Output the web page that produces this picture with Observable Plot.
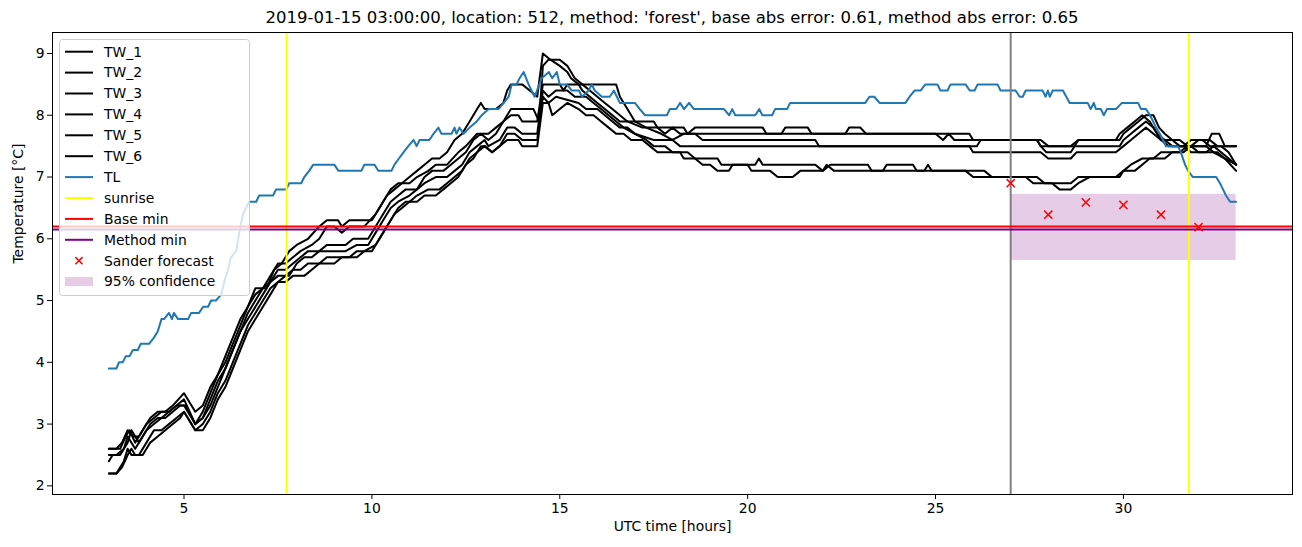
<!DOCTYPE html>
<html><head><meta charset="utf-8">
<script src="https://cdn.jsdelivr.net/npm/d3@7"></script>
<script src="https://cdn.jsdelivr.net/npm/@observablehq/plot@0.6"></script>
<style>
body{margin:0;background:#fff;font-family:"DejaVu Sans",sans-serif;}
#wrap{position:relative;width:1302px;height:547px;overflow:hidden;}
#title{position:absolute;left:52px;width:1240px;top:7px;line-height:22px;text-align:center;font-size:16.5px;color:#000;}
#chart{position:absolute;left:0;top:31px;}
#legend{position:absolute;left:59px;top:39px;}
</style></head><body>
<div id="wrap"><div id="title"></div><div id="chart"></div><svg id="legend" width="192" height="258"></svg></div>
<script>
const titleText = "2019-01-15 03:00:00, location: 512, method: 'forest', base abs error: 0.61, method abs error: 0.65";
const xLabel = "UTC time [hours]";
const yLabel = "Temperature [\u00B0C]";
const xTicks = [5, 10, 15, 20, 25, 30];
const yTicks = [2, 3, 4, 5, 6, 7, 8, 9];
const twNames = ["TW_1", "TW_2", "TW_3", "TW_4", "TW_5", "TW_6"];

const tw1 = [[3,2.6],[3.3,2.6],[3.45,2.8],[3.55,2.9],[3.7,2.7],[3.9,2.9],[4.1,3.1],[4.3,3.2],[4.5,3.2],[4.7,3.3],[4.85,3.4],[5.0,3.5],[5.3,3.2],[5.5,3.3],[5.7,3.6],[5.9,3.8],[6.1,4.1],[6.3,4.4],[6.5,4.7],[6.7,4.9],[6.9,5.2],[7.2,5.2],[7.4,5.5],[7.6,5.6],[7.8,5.8],[8.0,5.9],[8.3,6.0],[8.6,6.2],[8.8,6.3],[9.1,6.3],[9.2,6.2],[9.4,6.3],[10.0,6.3],[10.2,6.5],[10.4,6.7],[10.6,6.8],[10.8,6.9],[11.0,7.0],[11.2,7.1],[11.4,7.2],[11.6,7.3],[11.8,7.3],[12.0,7.4],[12.2,7.6],[12.4,7.7],[12.6,7.9],[12.8,8.1],[12.9,8.2],[13.0,8.1],[13.3,8.1],[13.5,8.2],[13.6,8.4],[13.7,8.5],[14.0,8.5],[14.2,8.4],[14.4,8.3],[14.55,9.0],[14.75,8.9],[15.0,8.8],[15.2,8.7],[15.3,8.6],[15.5,8.5],[15.6,8.4],[15.8,8.3],[16.0,8.2],[16.2,8.1],[16.4,8.0],[16.6,7.9],[17.5,7.9],[17.6,7.8],[18.3,7.8],[18.4,7.7],[18.6,7.8],[20.4,7.8],[20.5,7.7],[22.6,7.7],[22.7,7.8],[23.0,7.8],[23.15,7.7],[25.0,7.7],[25.2,7.6],[25.35,7.7],[25.5,7.6],[27.8,7.6],[28.0,7.5],[28.6,7.5],[28.8,7.6],[29.9,7.6],[30.0,7.7],[30.2,7.8],[30.4,7.9],[30.6,8.0],[30.8,8.0],[30.95,7.8],[31.1,7.7],[31.3,7.6],[31.5,7.6],[31.7,7.5],[32.2,7.5],[32.35,7.7],[32.55,7.7],[32.7,7.5],[33.0,7.5]];
const tw2 = [[3,2.6],[3.2,2.6],[3.35,2.7],[3.5,2.9],[3.65,2.8],[3.8,2.8],[4.0,3.0],[4.2,3.1],[4.4,3.2],[4.6,3.2],[4.8,3.3],[5.0,3.4],[5.3,3.0],[5.5,3.2],[5.7,3.5],[5.9,3.8],[6.1,4.0],[6.3,4.3],[6.5,4.6],[6.7,4.9],[6.9,5.1],[7.1,5.2],[7.3,5.4],[7.5,5.6],[7.7,5.6],[7.9,5.7],[8.1,5.8],[8.4,5.9],[8.6,6.0],[8.8,6.2],[9.0,6.2],[9.2,6.1],[9.4,6.2],[9.8,6.2],[10.1,6.4],[10.3,6.6],[10.5,6.8],[10.7,6.9],[11.0,6.9],[11.2,7.0],[11.5,7.1],[11.7,7.2],[12.0,7.2],[12.3,7.4],[12.5,7.5],[12.8,7.7],[13.1,7.7],[13.3,7.8],[13.5,7.9],[13.7,8.1],[14.3,8.1],[14.45,7.9],[14.55,8.8],[14.7,8.9],[15.0,8.9],[15.2,8.8],[15.4,8.6],[15.6,8.5],[15.8,8.4],[16.0,8.3],[16.2,8.2],[16.4,8.1],[16.6,8.0],[16.8,7.9],[17.2,7.8],[17.6,7.8],[17.8,7.7],[18.0,7.8],[18.2,7.7],[20.9,7.7],[21.0,7.8],[21.6,7.8],[21.7,7.7],[25.9,7.7],[26.0,7.6],[27.7,7.6],[27.8,7.5],[28.7,7.5],[28.8,7.6],[29.8,7.6],[29.9,7.7],[30.1,7.8],[30.3,7.9],[30.5,8.0],[30.7,7.9],[30.9,7.7],[31.1,7.6],[31.3,7.5],[31.6,7.5],[31.8,7.6],[32.1,7.6],[32.3,7.5],[32.6,7.5],[32.8,7.4],[33.0,7.2]];
const tw3 = [[3,2.5],[3.2,2.5],[3.4,2.6],[3.5,2.8],[3.7,2.6],[3.9,2.8],[4.1,3.0],[4.3,3.1],[4.5,3.1],[4.7,3.2],[4.9,3.3],[5.05,3.3],[5.3,3.0],[5.5,3.1],[5.7,3.4],[5.9,3.7],[6.1,3.9],[6.3,4.2],[6.5,4.5],[6.7,4.8],[6.9,5.0],[7.1,5.2],[7.3,5.3],[7.5,5.5],[7.7,5.5],[7.9,5.6],[8.1,5.7],[8.3,5.8],[8.6,5.8],[8.8,5.9],[9.3,5.9],[9.5,6.0],[9.9,6.0],[10.1,6.2],[10.3,6.4],[10.5,6.6],[10.7,6.7],[10.9,6.8],[11.2,6.8],[11.4,7.0],[11.6,7.1],[11.9,7.1],[12.1,7.2],[12.3,7.3],[12.5,7.4],[12.7,7.6],[12.9,7.7],[13.1,7.6],[13.3,7.7],[13.5,7.9],[13.7,8.0],[13.9,8.0],[14.0,7.9],[14.4,7.9],[14.55,8.5],[15.0,8.5],[15.1,8.4],[15.2,8.5],[16.5,8.5],[16.6,8.3],[16.8,8.1],[17.0,7.9],[17.3,7.8],[17.7,7.7],[18.0,7.6],[18.3,7.7],[18.6,7.7],[18.8,7.6],[21.8,7.6],[21.9,7.5],[26.1,7.5],[26.2,7.6],[27.7,7.6],[27.8,7.5],[27.95,7.4],[28.6,7.4],[28.7,7.5],[29.9,7.5],[30.0,7.6],[30.2,7.7],[30.4,7.8],[30.6,7.9],[30.8,7.8],[31.0,7.6],[31.2,7.5],[31.6,7.5],[31.8,7.4],[32.2,7.4],[32.4,7.5],[32.6,7.4],[32.8,7.3],[33.0,7.2]];
const tw4 = [[3,2.4],[3.1,2.5],[3.3,2.5],[3.5,2.7],[3.6,2.9],[3.8,2.7],[4.0,2.9],[4.2,3.0],[4.4,3.1],[4.6,3.2],[4.8,3.3],[5.0,3.3],[5.3,3.0],[5.5,3.1],[5.7,3.3],[5.9,3.6],[6.1,3.9],[6.3,4.2],[6.5,4.5],[6.7,4.7],[6.9,4.9],[7.1,5.1],[7.3,5.3],[7.5,5.4],[7.8,5.4],[8.0,5.6],[8.2,5.7],[8.4,5.7],[8.6,5.8],[9.3,5.8],[9.6,5.9],[9.9,5.9],[10.1,6.1],[10.3,6.3],[10.5,6.5],[10.7,6.6],[11.0,6.7],[11.2,6.8],[11.4,6.9],[11.7,7.0],[12.0,7.0],[12.2,7.1],[12.4,7.2],[12.6,7.4],[12.8,7.5],[13.0,7.6],[13.1,7.5],[13.4,7.6],[13.6,7.8],[13.8,7.8],[14.0,7.7],[14.4,7.7],[14.55,8.4],[14.7,8.3],[14.9,8.4],[15.2,8.4],[15.4,8.3],[15.7,8.3],[15.9,8.2],[16.1,8.1],[16.3,8.0],[16.5,7.9],[16.7,7.8],[17.0,7.7],[17.5,7.6],[18.0,7.6],[18.2,7.5],[25.9,7.5],[26.0,7.4],[27.8,7.4],[28.0,7.3],[28.6,7.3],[28.75,7.4],[29.8,7.4],[30.0,7.5],[30.2,7.6],[30.4,7.7],[30.6,7.8],[30.8,7.7],[31.0,7.6],[31.3,7.6],[31.5,7.5],[31.8,7.5],[32.0,7.6],[32.3,7.6],[32.5,7.5],[33.0,7.5]];
const tw5 = [[3,2.2],[3.2,2.2],[3.4,2.4],[3.5,2.6],[3.6,2.5],[3.8,2.5],[4.0,2.7],[4.2,2.9],[4.4,2.9],[4.6,3.0],[4.8,3.1],[5.0,3.2],[5.3,2.9],[5.5,3.0],[5.7,3.2],[5.9,3.5],[6.1,3.7],[6.3,4.0],[6.5,4.3],[6.7,4.6],[6.9,4.8],[7.1,5.0],[7.3,5.2],[7.5,5.3],[7.7,5.4],[7.9,5.5],[8.1,5.5],[8.3,5.6],[8.6,5.6],[8.8,5.7],[9.4,5.7],[9.6,5.8],[10.0,5.8],[10.2,6.0],[10.4,6.2],[10.6,6.4],[10.8,6.5],[11.0,6.6],[11.2,6.7],[11.5,6.8],[11.8,6.8],[12.0,6.9],[12.2,7.0],[12.4,7.1],[12.6,7.3],[12.8,7.4],[13.0,7.5],[13.2,7.4],[13.4,7.5],[13.6,7.7],[13.8,7.7],[14.0,7.6],[14.4,7.6],[14.55,8.3],[14.7,8.2],[14.9,8.3],[15.5,8.2],[15.7,8.1],[16.0,8.1],[16.2,8.0],[16.4,7.9],[16.6,7.8],[16.8,7.8],[17.0,7.7],[17.3,7.6],[17.5,7.5],[17.8,7.5],[18.0,7.4],[18.4,7.4],[18.6,7.3],[19.2,7.3],[19.3,7.2],[20.2,7.2],[20.3,7.3],[20.4,7.2],[21.8,7.2],[22.0,7.1],[22.2,7.2],[23.2,7.2],[23.3,7.1],[23.6,7.1],[23.7,7.2],[24.4,7.2],[24.5,7.1],[26.3,7.1],[26.5,7.0],[27.4,7.0],[27.6,6.9],[28.1,6.9],[28.3,6.8],[28.6,6.8],[28.8,6.9],[29.1,7.0],[29.9,7.0],[30.0,7.1],[30.2,7.2],[30.5,7.3],[30.8,7.3],[31.0,7.4],[31.5,7.4],[31.7,7.5],[32.2,7.5],[32.4,7.4],[32.7,7.3],[33.0,7.2]];
const tw6 = [[3,2.2],[3.2,2.2],[3.35,2.3],[3.5,2.5],[3.6,2.6],[3.7,2.5],[3.9,2.5],[4.1,2.7],[4.3,2.8],[4.5,2.9],[4.7,3.0],[4.9,3.1],[5.0,3.2],[5.3,2.9],[5.5,2.9],[5.7,3.1],[5.9,3.4],[6.1,3.6],[6.3,3.9],[6.5,4.2],[6.7,4.5],[6.9,4.7],[7.1,4.9],[7.3,5.1],[7.5,5.3],[7.7,5.3],[7.9,5.4],[8.2,5.4],[8.4,5.5],[8.6,5.6],[9.0,5.6],[9.2,5.7],[9.6,5.7],[9.8,5.8],[10.1,5.9],[10.3,6.1],[10.5,6.3],[10.7,6.5],[10.9,6.6],[11.2,6.6],[11.4,6.7],[11.7,6.7],[11.9,6.8],[12.1,6.9],[12.3,7.0],[12.5,7.2],[12.7,7.3],[12.9,7.5],[13.0,7.5],[13.2,7.4],[13.4,7.5],[13.6,7.6],[13.9,7.6],[14.0,7.5],[14.4,7.5],[14.55,8.2],[14.7,8.2],[14.8,8.0],[15.0,8.1],[15.2,8.2],[15.5,8.1],[15.7,8.0],[15.9,8.0],[16.1,7.9],[16.3,7.8],[16.5,7.7],[16.7,7.7],[16.9,7.6],[17.2,7.6],[17.4,7.5],[17.6,7.4],[18.2,7.4],[18.3,7.3],[18.6,7.3],[18.8,7.2],[19.0,7.2],[19.2,7.1],[19.5,7.1],[19.6,7.2],[20.0,7.2],[20.1,7.1],[20.6,7.1],[20.8,7.0],[21.2,7.0],[21.4,7.1],[22.0,7.1],[22.1,7.2],[22.3,7.1],[24.7,7.1],[24.8,7.2],[24.9,7.1],[25.8,7.1],[26.0,7.0],[27.7,7.0],[27.9,6.9],[28.6,6.9],[28.8,7.0],[29.8,7.0],[30.0,7.1],[30.3,7.1],[30.5,7.2],[30.7,7.3],[31.1,7.3],[31.3,7.4],[31.6,7.4],[31.8,7.5],[32.0,7.4],[32.5,7.4],[32.7,7.3],[33.0,7.1]];

const tl = [[3.0,3.9],[3.2,3.9],[3.27,4.0],[3.37,4.0],[3.45,4.1],[3.55,4.1],[3.64,4.2],[3.77,4.2],[3.85,4.3],[4.07,4.3],[4.2,4.4],[4.3,4.5],[4.4,4.7],[4.47,4.7],[4.6,4.8],[4.68,4.7],[4.73,4.8],[4.84,4.7],[5.11,4.7],[5.19,4.8],[5.4,4.8],[5.51,4.9],[5.64,4.9],[5.72,5.0],[5.85,5.0],[5.99,5.1],[6.07,5.3],[6.17,5.5],[6.25,5.7],[6.39,5.8],[6.47,6.1],[6.57,6.4],[6.65,6.5],[6.73,6.6],[6.92,6.6],[7.0,6.7],[7.37,6.7],[7.45,6.8],[7.72,6.8],[7.8,6.9],[8.12,6.9],[8.2,7.0],[8.33,7.1],[8.44,7.2],[9.0,7.2],[9.11,7.1],[9.72,7.1],[9.8,7.2],[10.07,7.2],[10.17,7.1],[10.52,7.1],[10.6,7.2],[10.72,7.3],[10.84,7.4],[10.97,7.5],[11.11,7.6],[11.19,7.5],[11.27,7.6],[11.53,7.6],[11.64,7.7],[11.77,7.8],[11.85,7.7],[12.12,7.7],[12.2,7.8],[12.25,7.7],[12.33,7.8],[12.44,7.7],[12.6,7.8],[12.79,7.9],[12.92,8.0],[13.11,8.1],[13.37,8.1],[13.51,8.2],[13.64,8.3],[13.72,8.5],[13.85,8.5],[13.93,8.6],[14.04,8.7],[14.17,8.5],[14.33,8.3],[14.52,8.6],[14.71,8.7],[14.8,8.6],[14.92,8.7],[15.0,8.5],[15.19,8.5],[15.32,8.4],[15.51,8.4],[15.59,8.3],[15.77,8.4],[15.85,8.5],[15.93,8.4],[16.12,8.3],[16.33,8.3],[16.44,8.4],[16.52,8.3],[16.6,8.2],[17.0,8.2],[17.13,8.1],[17.27,8.0],[17.85,8.0],[17.93,8.1],[18.1,8.1],[18.2,8.2],[18.31,8.1],[18.44,8.2],[18.57,8.1],[19.37,8.1],[19.51,8.0],[19.59,8.1],[19.67,8.0],[20.2,8.0],[20.31,8.1],[20.39,8.0],[20.65,8.0],[20.73,8.1],[21.05,8.1],[21.13,8.2],[23.13,8.2],[23.24,8.3],[23.37,8.3],[23.51,8.2],[24.2,8.2],[24.31,8.3],[24.44,8.4],[24.6,8.4],[24.73,8.5],[25.05,8.5],[25.13,8.4],[25.32,8.4],[25.4,8.5],[25.8,8.5],[25.91,8.4],[26.04,8.4],[26.12,8.5],[26.65,8.5],[26.73,8.4],[27.13,8.4],[27.24,8.3],[27.32,8.3],[27.4,8.4],[27.85,8.4],[27.93,8.3],[27.99,8.4],[28.04,8.3],[28.12,8.4],[28.39,8.4],[28.57,8.2],[29.05,8.2],[29.13,8.1],[29.21,8.2],[29.27,8.1],[29.4,8.1],[29.48,8.0],[29.56,8.1],[29.8,8.1],[29.96,8.2],[30.39,8.2],[30.47,8.1],[30.6,8.1],[30.71,8.0],[30.79,7.9],[30.87,7.8],[30.97,7.7],[31.05,7.6],[31.13,7.5],[31.45,7.5],[31.53,7.4],[31.64,7.2],[31.72,7.1],[31.85,7.0],[32.47,7.0],[32.57,6.9],[32.65,6.8],[32.73,6.7],[32.84,6.6],[33.0,6.6]];

const sunriseHours = [7.73, 31.74];
const forecastStart = [27];
const baseMin = [6.2];
const methodMin = [6.15];
const forecastHours = [27, 28, 29, 30, 31, 32];
const forecastValues = [6.9, 6.39, 6.59, 6.55, 6.39, 6.19];
const confHours = [27, 33];
const confLow = [5.65];
const confHigh = [6.72];

const legendLabels = ["TW_1","TW_2","TW_3","TW_4","TW_5","TW_6","TL","sunrise","Base min","Method min","Sander forecast","95% confidence"];
const legendKinds  = ["line","line","line","line","line","line","line","line","line","line","marker","patch"];
const legendColors = ["black","black","black","black","black","black","#1f77b4","yellow","red","purple","red","purple"];

document.getElementById("title").textContent = titleText;

const twRows = [tw1, tw2, tw3, tw4, tw5, tw6].flatMap((s, i) => s.map(([h, v]) => ({series: twNames[i], h, v})));
const tlRows = tl.map(([h, v]) => ({h, v}));
const fcRows = forecastHours.map((h, i) => ({h, v: forecastValues[i]}));
const confRows = [{x1: confHours[0], x2: confHours[1], y1: confLow[0], y2: confHigh[0]}];

const chart = Plot.plot({
  width: 1302,
  height: 516,
  marginLeft: 52,
  marginRight: 10,
  marginTop: 1,
  marginBottom: 53,
  style: {fontFamily: "DejaVu Sans, sans-serif", fontSize: "13.9px", background: "white", color: "black"},
  x: {domain: [1.5, 34.5]},
  y: {domain: [1.86, 9.34]},
  marks: [
    Plot.rect(confRows, {x1: "x1", x2: "x2", y1: "y1", y2: "y2", fill: "purple", fillOpacity: 0.2}),
    Plot.line(twRows, {x: "h", y: "v", z: "series", stroke: "black", strokeWidth: 2, strokeLinejoin: "round"}),
    Plot.line(tlRows, {x: "h", y: "v", stroke: "#1f77b4", strokeWidth: 2, strokeLinejoin: "round"}),
    Plot.ruleX(forecastStart, {stroke: "gray", strokeWidth: 2}),
    Plot.ruleX(sunriseHours, {stroke: "yellow", strokeWidth: 2}),
    Plot.ruleY(baseMin, {stroke: "red", strokeWidth: 2}),
    Plot.ruleY(methodMin, {stroke: "purple", strokeWidth: 2}),
    Plot.dot(fcRows, {x: "h", y: "v", symbol: "times", r: 3.8, stroke: "red", strokeWidth: 1.5}),
    Plot.frame({stroke: "black", strokeWidth: 1}),
    Plot.axisX({ticks: xTicks, tickSize: 5, tickPadding: 4, label: null, tickFormat: d3.format("d"), fontSize: 13.9}),
    Plot.axisY({ticks: yTicks, tickSize: 5, tickPadding: 3, label: null, tickFormat: d3.format("d"), fontSize: 13.9}),
    Plot.text([xLabel], {text: d => d, frameAnchor: "bottom", dy: 36, fontSize: 13.9}),
    Plot.text([yLabel], {text: d => d, frameAnchor: "left", dx: -34, rotate: -90, fontSize: 13.9})
  ]
});
document.getElementById("chart").appendChild(chart);

// Legend
const lg = d3.select("#legend");
lg.append("rect").attr("x", 0.5).attr("y", 0.5).attr("width", 190).attr("height", 256).attr("rx", 3)
  .attr("fill", "white").attr("fill-opacity", 0.8).attr("stroke", "#cccccc").attr("stroke-width", 1);
legendLabels.forEach((lab, i) => {
  const cy = 12.7 + i * 20.9;
  const kind = legendKinds[i], col = legendColors[i];
  if (kind === "line") {
    lg.append("line").attr("x1", 6).attr("x2", 34).attr("y1", cy).attr("y2", cy).attr("stroke", col).attr("stroke-width", 2);
  } else if (kind === "marker") {
    const s = 3.6;
    lg.append("path").attr("d", `M${20 - s},${cy - s}L${20 + s},${cy + s}M${20 - s},${cy + s}L${20 + s},${cy - s}`)
      .attr("stroke", col).attr("stroke-width", 1.5).attr("fill", "none");
  } else {
    lg.append("rect").attr("x", 6).attr("y", cy - 4.5).attr("width", 28).attr("height", 9).attr("fill", col).attr("fill-opacity", 0.2);
  }
  lg.append("text").attr("x", 45).attr("y", cy).attr("dy", "0.35em").attr("font-size", 13.9)
    .attr("font-family", "DejaVu Sans, sans-serif").attr("fill", "black").text(lab);
});
</script>
</body></html>
